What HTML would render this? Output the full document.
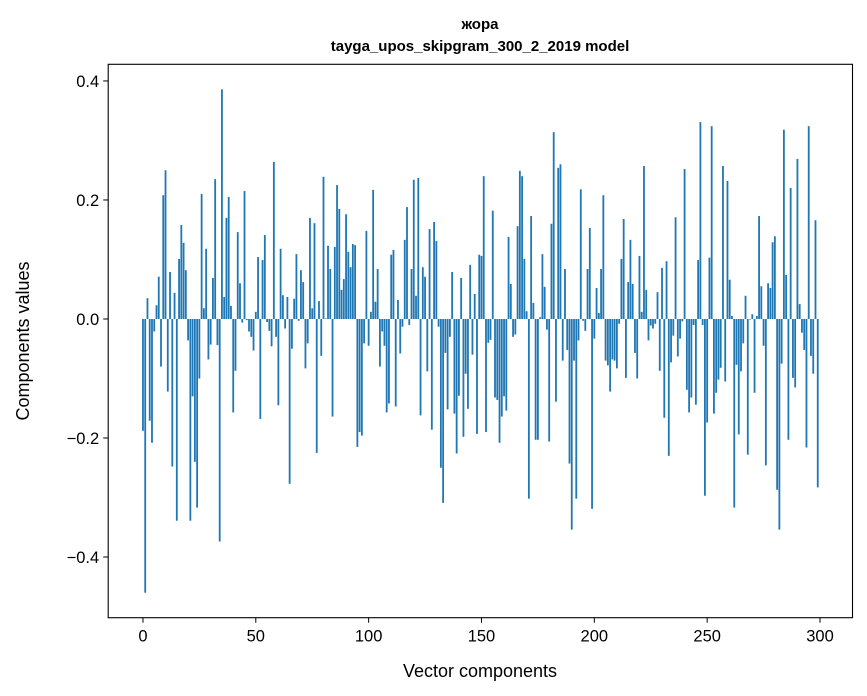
<!DOCTYPE html>
<html><head><meta charset="utf-8"><style>
body{margin:0;background:#fff;}
svg{display:block;font-family:"Liberation Sans","DejaVu Sans",sans-serif;}
</style></head><body>
<svg id="chart" width="867" height="696" viewBox="0 0 867 696" xmlns="http://www.w3.org/2000/svg">
<text x="480" y="29" text-anchor="middle" font-size="15" font-weight="bold">жора</text>
<text x="480" y="51" text-anchor="middle" font-size="15" font-weight="bold">tayga_upos_skipgram_300_2_2019 model</text>
<g id="bars"></g>
<g id="axes"></g>
<text x="480" y="677" text-anchor="middle" font-size="18">Vector components</text>
<text transform="translate(29,341) rotate(-90)" text-anchor="middle" font-size="18">Components values</text>
</svg>
<script>
const values = [-0.188,-0.46,0.035,-0.171,-0.208,-0.021,0.023,0.071,-0.08,0.208,
0.25,-0.122,0.079,-0.248,0.044,-0.339,0.101,0.158,0.128,0.082,
-0.036,-0.339,-0.13,-0.24,-0.317,-0.1,0.21,0.018,0.118,-0.068,
-0.043,0.069,0.235,-0.044,-0.374,0.386,0.037,0.17,0.205,0.022,
-0.157,-0.087,0.146,0.06,-0.006,0.215,-0.002,-0.021,-0.03,-0.053,
0.012,0.104,-0.168,0.099,0.141,-0.005,-0.02,-0.046,0.264,-0.03,
-0.145,0.118,0.04,-0.016,0.037,-0.277,-0.05,0.034,0.109,-0.003,
0.082,0.062,-0.083,-0.041,0.17,0.018,0.161,-0.225,0.03,-0.062,
0.239,0.001,0.123,0.084,-0.164,0.121,0.225,0.185,0.049,0.067,
0.176,0.113,0.087,0.126,0.124,-0.215,-0.19,-0.196,-0.041,0.148,
-0.045,0.012,0.217,0.029,0.084,-0.08,-0.021,-0.045,-0.157,-0.142,
0.108,0.116,-0.147,0.032,-0.058,-0.013,0.133,0.188,-0.01,0.084,
0.234,0.039,0.237,-0.162,0.087,0.071,-0.088,0.151,-0.186,0.163,
0.131,-0.013,-0.25,-0.309,-0.057,-0.152,-0.03,0.079,-0.159,-0.226,
-0.129,0.069,-0.198,-0.092,-0.151,0.091,-0.06,0.042,-0.193,0.108,
0.106,0.24,-0.19,-0.04,-0.035,0.182,-0.132,-0.136,-0.208,-0.164,
-0.13,-0.154,0.138,0.059,-0.03,-0.026,0.156,0.249,0.24,0.101,
0.013,-0.302,0.173,0.027,-0.203,-0.203,0.003,0.109,0.054,-0.018,
-0.206,0.16,0.314,-0.139,0.254,0.26,-0.07,0.084,-0.052,-0.243,
-0.354,-0.07,-0.302,-0.036,0.218,-0.003,-0.02,0.084,0.153,-0.319,
-0.033,0.052,0.01,0.084,0.208,-0.07,-0.078,-0.122,-0.068,-0.07,
-0.083,-0.008,0.101,0.168,-0.099,0.062,0.133,0.059,-0.057,-0.1,
0.106,0.012,0.257,0.049,-0.036,-0.011,-0.016,-0.008,0.045,-0.087,
0.086,-0.166,0.097,-0.23,-0.073,-0.028,0.171,-0.063,-0.033,-0.004,
0.252,-0.119,-0.157,-0.132,-0.01,-0.144,0.099,0.331,-0.01,-0.297,
-0.174,0.103,0.324,-0.159,-0.124,-0.102,-0.082,0.257,-0.105,0.232,
0.066,0.005,-0.317,-0.077,-0.194,-0.088,-0.041,0.039,-0.228,-0.001,
0.008,-0.124,0.005,0.173,0.055,-0.045,-0.246,0.06,0.052,0.129,
0.139,-0.287,-0.354,-0.075,0.318,0.074,-0.203,0.22,-0.099,-0.115,
0.269,0.025,-0.023,-0.052,-0.216,0.324,-0.062,-0.092,0.166,-0.283];
const xTicks = [0,50,100,150,200,250,300];
const yTicks = [-0.4,-0.2,0.0,0.2,0.4];
const yTickLabels = ["\u22120.4","\u22120.2","0.0","0.2","0.4"];

const L=108.2,R=852.5,T=64.3,B=617.7;
const xMin=-15.4,xMax=314.4,yMin=-0.502,yMax=0.428;
function xs(v){return L+(v-xMin)/(xMax-xMin)*(R-L);}
function ys(v){return T+(yMax-v)/(yMax-yMin)*(B-T);}
const NS="http://www.w3.org/2000/svg";
const barsG=document.getElementById('bars');
values.forEach((v,i)=>{
  const r=document.createElementNS(NS,'rect');
  const x0=xs(i-0.4),x1=xs(i+0.4);
  const y0=ys(Math.max(v,0)),y1=ys(Math.min(v,0));
  r.setAttribute('x',x0);r.setAttribute('width',x1-x0);
  r.setAttribute('y',y0);r.setAttribute('height',Math.max(y1-y0,0.01));
  r.setAttribute('fill','#1f77b4');
  
  
  barsG.appendChild(r);
});
const ax=document.getElementById('axes');
const frame=document.createElementNS(NS,'rect');
frame.setAttribute('x',L);frame.setAttribute('y',T);frame.setAttribute('width',R-L);frame.setAttribute('height',B-T);
frame.setAttribute('fill','none');frame.setAttribute('stroke','#000');frame.setAttribute('stroke-width','1.1');


ax.appendChild(frame);
xTicks.forEach(t=>{
  const x=xs(t);
  const l=document.createElementNS(NS,'line');
  l.setAttribute('x1',x);l.setAttribute('x2',x);l.setAttribute('y1',B);l.setAttribute('y2',B+5);l.setAttribute('stroke','#000');
  
  
  ax.appendChild(l);
  const tx=document.createElementNS(NS,'text');
  tx.setAttribute('x',x);tx.setAttribute('y',B+24);tx.setAttribute('text-anchor','middle');tx.setAttribute('font-size','16.5');
  tx.textContent=t;
  
  
  ax.appendChild(tx);
});
yTicks.forEach((t,i)=>{
  const y=ys(t);
  const l=document.createElementNS(NS,'line');
  l.setAttribute('x1',L-5);l.setAttribute('x2',L);l.setAttribute('y1',y);l.setAttribute('y2',y);l.setAttribute('stroke','#000');
  
  
  ax.appendChild(l);
  const tx=document.createElementNS(NS,'text');
  tx.setAttribute('x',L-9);tx.setAttribute('y',y+6);tx.setAttribute('text-anchor','end');tx.setAttribute('font-size','16.5');
  tx.textContent=yTickLabels[i];
  
  
  ax.appendChild(tx);
});
</script>
</body></html>
